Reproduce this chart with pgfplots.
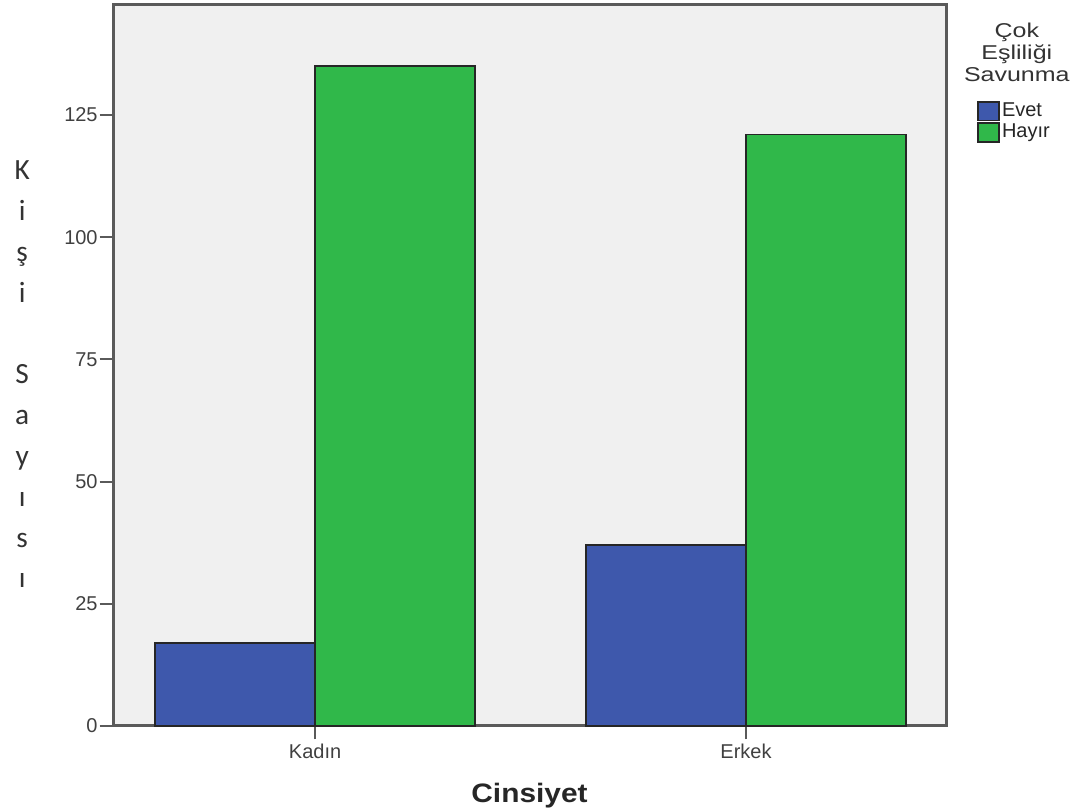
\documentclass[border=0pt]{standalone}
\usepackage{fontspec}
\setmainfont{Liberation Sans}
\newfontfamily\titlefont[FakeStretch=1.25]{Liberation Sans}
\newfontfamily\xlabfont[FakeStretch=1.12]{Liberation Sans}
\newfontfamily\ylabfont{Carlito}
\usepackage{pgfplots}
\pgfplotsset{compat=1.18}
\definecolor{barblue}{HTML}{3E58AC}
\definecolor{bargreen}{HTML}{30B84A}
\definecolor{bgray}{HTML}{F0F0F0}
\definecolor{axgray}{HTML}{5A5A5A}
\definecolor{txt}{HTML}{404040}
\begin{document}
\begin{tikzpicture}[x=1pt,y=1pt]
\useasboundingbox (0,0) rectangle (812.25,609);
\begin{axis}[
  at={(84.75pt,64.5pt)}, anchor=south west,
  scale only axis, width=624.75pt, height=540.75pt,
  ybar=0pt, bar width=120pt,
  xmin=-0.469, xmax=1.464, ymin=0, ymax=147.5,
  xtick={0,1}, xticklabels={Kadın,Erkek},
  ytick={0,25,50,75,100,125},
  axis background/.style={fill=bgray},
  axis line style={axgray, line width=2.25pt},
  tick style={axgray, line width=1.5pt},
  tick align=outside, major tick length=10pt,
  xtick pos=bottom, ytick pos=left,
  /pgf/number format/assume math mode=true,
  tick label style={font=\fontsize{15}{17}\selectfont, text=txt},
  yticklabel style={xshift=2pt},
  xticklabel style={yshift=0pt},
  xlabel={Cinsiyet},
  xlabel style={font=\xlabfont\fontsize{20}{22}\bfseries, text=black!85, at={(axis description cs:0.5,-0.096)}, anchor=center},
  legend style={at={(axis description cs:1.037,0.867)}, anchor=north west, draw=none, fill=none,
    font=\fontsize{15}{17}\selectfont, text=black!85, row sep=0pt, inner sep=0pt,
    nodes={inner ysep=0pt, inner xsep=1.5pt, text height=11pt, text depth=4.75pt},
    /tikz/every even column/.append style={column sep=0pt}},
  legend cell align=left,
  legend image code/.code={\draw[#1, draw=black!85, line width=1.2pt] (0pt,-6.5pt) rectangle (16pt,7.5pt);},
  clip=false,
]
\addplot[fill=barblue, draw=black!85, line width=1pt] coordinates {(0,17) (1,37)};
\addplot[fill=bargreen, draw=black!85, line width=1pt] coordinates {(0,135) (1,121)};
\legend{Evet,Hayır}
\node[align=center, font=\titlefont\fontsize{15}{16.5}\selectfont, text=black!80, anchor=north, inner sep=0pt] at (axis description cs:1.085,0.975) {Çok\\Eşliliği\\Savunma};
\node[align=center, font=\ylabfont\fontsize{22}{30.6}\selectfont, text=black!80, anchor=north, inner sep=0pt] at (axis description cs:-0.109,0.784) {K\\i\\ş\\i\\\mbox{}\\S\\a\\y\\ı\\s\\ı};
\end{axis}
\end{tikzpicture}
\end{document}
